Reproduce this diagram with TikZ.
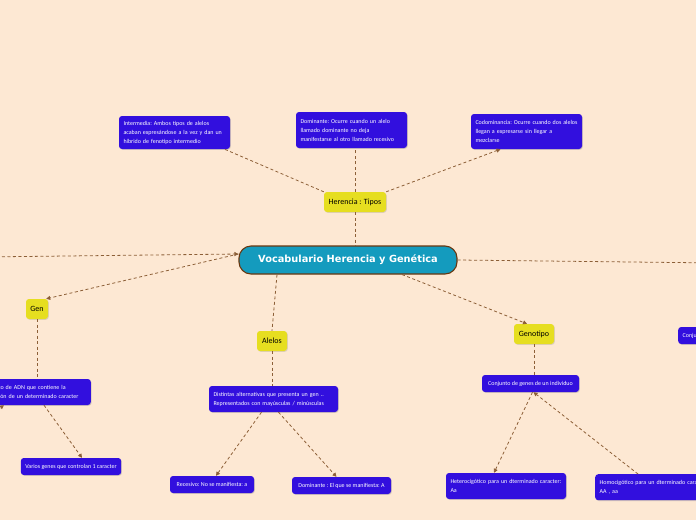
\documentclass[tikz,border=0pt]{standalone}
\usepackage{fontspec}
\setmainfont{Carlito}
\newfontfamily\rootfont{DejaVu Sans}
\usetikzlibrary{arrows.meta, shadows}
\definecolor{bgpeach}{RGB}{253,232,211}
\definecolor{rootteal}{RGB}{20,155,190}
\definecolor{rootbrown}{RGB}{105,55,15}
\definecolor{topicyellow}{RGB}{230,222,32}
\definecolor{leafblue}{RGB}{50,15,222}
\definecolor{linkbrown}{RGB}{140,95,55}

\begin{document}
\begin{tikzpicture}[
    x=1pt, y=-1pt,
    root/.style={
        draw=rootbrown, fill=rootteal, rounded corners=12pt,
        minimum width=218pt, minimum height=28pt,
        text=white, font=\rootfont\bfseries\fontsize{9.8}{11}\selectfont,
        line width=1.1pt
    },
    topic/.style={
        fill=topicyellow, rounded corners=3pt,
        minimum height=20pt, inner xsep=3pt,
        font=\fontsize{8}{10}\selectfont,
        drop shadow={shadow xshift=0.8pt, shadow yshift=-0.8pt, opacity=0.25}
    },
    leaf/.style={
        fill=leafblue, rounded corners=3pt, text=white,
        inner xsep=4.5pt, inner ysep=3pt, align=left,
        font=\fontsize{6}{9}\selectfont\frenchspacing,
        drop shadow={shadow xshift=0.8pt, shadow yshift=-0.8pt, opacity=0.3}
    },
    link/.style={
        draw=linkbrown, line width=0.8pt,
        dash pattern=on 3pt off 2.5pt
    },
    arrow/.style={
        link, -{Triangle[length=4pt, width=4pt]}
    }
]

\useasboundingbox (0,0) rectangle (696,520);
\fill[bgpeach] (0,0) rectangle (696,520);
\clip (0,0) rectangle (696,520);

\node[root] (vocab) at (348,260) {Vocabulario Herencia y Genética};

\node[topic, minimum width=62pt] (herencia) at (355,202) {Herencia : Tipos};
\node[leaf, text width=102pt, minimum height=33pt] (intermedia) at (174.5,132.5) {
    Intermedia: Ambos tipos de alelos\\
    acaban expresándose a la vez y dan un\\
    híbrido de fenotipo intermedio};
\node[leaf, text width=102pt, minimum height=36pt] (dominante) at (351.5,130) {
    Dominante: Ocurre cuando un alelo\\
    llamado dominante no deja\\
    manifestarse al otro llamado recesivo};
\node[leaf, text width=102pt, minimum height=35pt] (codominancia) at (526.5,131.5) {
    Codominancia: Ocurre cuando dos alelos\\
    llegan a expresarse sin llegar a\\
    mezclarse};

\node[topic, minimum width=22pt] (gen) at (37,309) {Gen};
\node[leaf, anchor=east, text width=109pt, minimum height=26pt] (adn) at (91,392) {
    Fragmento de ADN que contiene la\\
    información de un determinado caracter};
\node[leaf, minimum width=100pt, minimum height=17pt] (varios) at (71,466.5) {Varios genes que controlan 1 caracter};

\node[topic, minimum width=30pt] (alelos) at (272,341) {Alelos};
\node[leaf, text width=120pt, minimum height=26pt] (distintas) at (273.5,399) {
    Distintas alternativas que presenta un gen ..\\
    Representados con mayúsculas / minúsculas};
\node[leaf, minimum width=84pt, minimum height=17pt] (recesivo) at (212,484.5) {Recesivo: No se manifiesta: a};
\node[leaf, minimum width=99pt, minimum height=17pt] (dominanteA) at (341.5,485.5) {Dominante : El que se manifiesta: A};

\node[topic, minimum width=40pt] (genotipo) at (534,334) {Genotipo};
\node[leaf, minimum width=97pt, minimum height=17pt] (conjunto) at (530.5,383.5) {Conjunto de genes de un individuo};
\node[leaf, text width=111pt, minimum height=26pt] (hetero) at (506,486) {
    Heterocigótico para un dterminado caracter:\\
    Aa};
\node[leaf, anchor=north west, text width=111pt, minimum height=26pt] (homo) at (595,474) {
    Homocigótico para un dterminado caracter:\\
    AA , aa};

\node[leaf, anchor=west, minimum height=17pt] (fenoconj) at (678,335.5) {Conjunto de caracteres observables};

\coordinate (farleft) at (-20,257);
\coordinate (farright) at (720,263);
\coordinate (belowleft) at (-25,425);

\draw[link] (herencia.north west) -- ([xshift=50pt]intermedia.south);
\draw[link] (herencia.north) -- (herencia.north |- dominante.south);
\draw[arrow] (herencia.north east) -- ([xshift=-26pt]codominancia.south);
\draw[link] (herencia.south) -- (herencia.south |- vocab.north);

\draw[arrow] (farleft) -- ([yshift=6pt]vocab.west);
\draw[arrow] ([yshift=6pt]vocab.west) -- ([xshift=-2pt]gen.north east);
\draw[link] (vocab.east) -- (farright);
\draw[link] ([xshift=-71pt]vocab.south) -- (alelos.north);
\draw[arrow] ([xshift=54pt]vocab.south) -- ([xshift=-7pt]genotipo.north);

\draw[link] (gen.south) -- (gen.south |- adn.north);
\draw[arrow] ([xshift=-47pt]adn.south east) -- ([xshift=11pt]varios.north);
\draw[arrow] (belowleft) -- ([xshift=-87pt]adn.south east);

\draw[link] (alelos.south) -- (alelos.south |- distintas.north);
\draw[arrow] ([xshift=-12pt]distintas.south) -- ([xshift=4pt]recesivo.north);
\draw[arrow] ([xshift=5pt]distintas.south) -- ([xshift=-5pt]dominanteA.north);

\draw[link] (genotipo.south) -- (genotipo.south |- conjunto.north);
\draw[arrow] ([xshift=2pt]conjunto.south) -- ([xshift=-12pt]hetero.north);
\draw[arrow] ([xshift=43pt]homo.north west) -- ([xshift=3pt]conjunto.south);

\end{tikzpicture}
\end{document}
